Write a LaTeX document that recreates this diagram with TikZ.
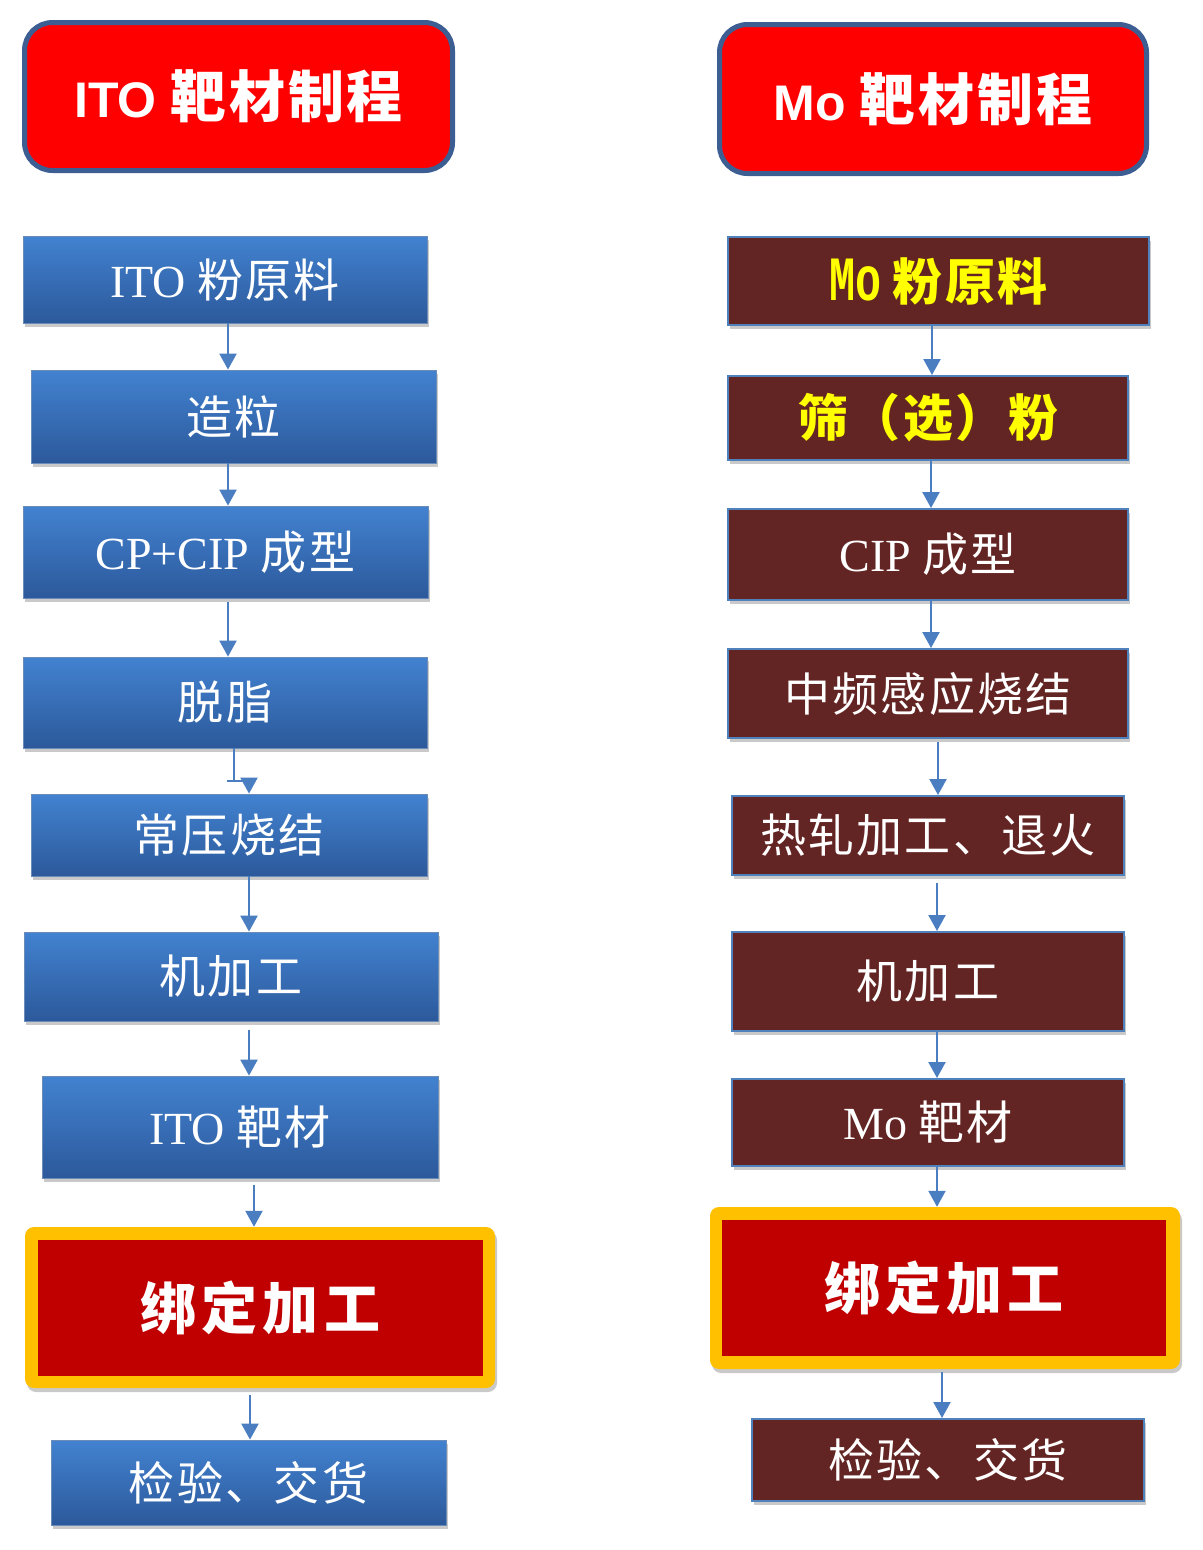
\documentclass[tikz,border=0pt]{standalone}
\usepackage{fontspec}
\usepackage{graphicx}
\setmainfont{Liberation Serif}
\newfontfamily\cjk[LetterSpace=5]{Noto Sans CJK SC}
\newfontfamily\cjkwide[LetterSpace=9]{Noto Sans CJK SC}
\newfontfamily\titlefont{Liberation Sans}
\newfontfamily\monof{Liberation Mono}
\usetikzlibrary{arrows.meta,shadows,calc}
\definecolor{arrowblue}{RGB}{74,126,193}
\definecolor{titleborder}{RGB}{60,94,146}
\definecolor{boxtop}{RGB}{66,130,208}
\definecolor{boxbot}{RGB}{44,89,155}
\definecolor{maroonfill}{RGB}{99,37,35}
\definecolor{mborder}{RGB}{79,129,189}
\definecolor{goldc}{RGB}{255,192,0}
\definecolor{darkredc}{RGB}{192,0,0}
\definecolor{yellowc}{RGB}{255,255,0}
\tikzset{
  shad/.style={drop shadow={shadow xshift=2pt,shadow yshift=-4pt,opacity=0.3,fill=black!70}},
  lbox/.style={rectangle, inner sep=0pt, top color=boxtop, bottom color=boxbot, draw=boxbot!70!white, line width=0.8pt, text=white, shad, font=\fontsize{46}{50}\selectfont},
  rbox/.style={rectangle, inner sep=0pt, fill=maroonfill, draw=mborder, line width=2pt, text=white, shad, font=\fontsize{46}{50}\selectfont},
  goldbox/.style={rectangle, inner sep=0pt, rounded corners=9pt, fill=goldc, shad},
  redin/.style={rectangle, inner sep=0pt, fill=darkredc, text=white, font=\fontsize{56}{60}\selectfont},
  titlebox/.style={rectangle, inner sep=0pt, rounded corners=28pt, fill=red, draw=titleborder, line width=5pt, text=white},
  conn/.style={draw=arrowblue, line width=2.2pt},
  arr/.style={conn, -{Triangle[width=17pt,length=16pt]}}
}
\begin{document}
\begin{tikzpicture}[x=1pt,y=-1pt]
\useasboundingbox (0,0) rectangle (1202,1550);
% titles
\node[titlebox, minimum width=428pt, minimum height=148pt] (T1) at (238.5,96.5)
  {\fontsize{50}{56}\selectfont\titlefont\bfseries ITO {\cjk\fontsize{56}{60}\selectfont\bfseries 靶材制程}};
\node[titlebox, minimum width=427pt, minimum height=149pt] (T2) at (933,99)
  {\fontsize{50}{56}\selectfont\titlefont\bfseries Mo {\cjk\fontsize{56}{60}\selectfont\bfseries 靶材制程}};
% left column
\node[lbox, minimum width=404pt, minimum height=87pt] (L1) at (225,279.5) {ITO {\cjk 粉原料}};
\node[lbox, minimum width=405pt, minimum height=93pt] (L2) at (233.5,416.5) {\cjk 造粒};
\node[lbox, minimum width=405pt, minimum height=92pt] (L3) at (225.5,552) {CP+CIP {\cjk 成型}};
\node[lbox, minimum width=404pt, minimum height=91pt] (L4) at (225,702.5) {\cjk 脱脂};
\node[lbox, minimum width=396pt, minimum height=82pt] (L5) at (229,835) {\cjk 常压烧结};
\node[lbox, minimum width=414pt, minimum height=89pt] (L6) at (231,976.5) {\cjk 机加工};
\node[lbox, minimum width=396pt, minimum height=102pt] (L7) at (240,1127) {ITO {\cjk 靶材}};
\node[goldbox, minimum width=470pt, minimum height=161pt] (L8) at (260,1307.5) {};
\node[redin, minimum width=445pt, minimum height=136pt] (L8in) at (260.5,1308) {\cjkwide\bfseries 绑定加工};
\node[lbox, minimum width=395pt, minimum height=85pt] (L9) at (248.5,1482.5) {\cjk 检验、交货};
% right column
\node[rbox, minimum width=421pt, minimum height=88pt, text=yellowc] (R1) at (938.5,281)
  {\scalebox{0.69}[1]{\monof\bfseries\fontsize{63}{66}\selectfont Mo} {\cjk\bfseries\fontsize{50}{54}\selectfont 粉原料}};
\node[rbox, minimum width=400pt, minimum height=84pt, text=yellowc] (R2) at (928,418)
  {\cjk\bfseries\fontsize{50}{54}\selectfont 筛（选）粉};
\node[rbox, minimum width=400pt, minimum height=91pt] (R3) at (928,554.5) {CIP {\cjk 成型}};
\node[rbox, minimum width=400pt, minimum height=89pt] (R4) at (928,693.5) {\cjk 中频感应烧结};
\node[rbox, minimum width=392pt, minimum height=79pt] (R5) at (928,835.5) {\cjk 热轧加工、退火};
\node[rbox, minimum width=392pt, minimum height=99pt] (R6) at (928,981.5) {\cjk 机加工};
\node[rbox, minimum width=392pt, minimum height=87pt] (R7) at (928,1122.5) {Mo {\cjk 靶材}};
\node[goldbox, minimum width=470pt, minimum height=162pt] (R8) at (945,1288) {};
\node[redin, minimum width=444pt, minimum height=136pt] (R8in) at (944,1288) {\cjkwide\bfseries 绑定加工};
\node[rbox, minimum width=392pt, minimum height=82pt] (R9) at (948,1460) {\cjk 检验、交货};
% left arrows
\draw[arr] ([xshift=3pt]L1.south) -- ([xshift=3pt]L1.south |- L2.north);
\draw[arr] ([xshift=-5.5pt]L2.south) -- ([xshift=-5.5pt]L2.south |- L3.north);
\draw[arr] ([xshift=2.5pt,yshift=-4pt]L3.south) -- ([xshift=2.5pt]L3.south |- L4.north);
\coordinate (e0) at (227,781);
\coordinate (e1) at (234,781);
\coordinate (e2) at (249,781);
\draw[conn] (L4.south -| e1) -- (e1);
\draw[conn] (e0) -- (e2);
\draw[arr] (e2) -- (e2 |- L5.north);
\draw[arr] ([xshift=20pt]L5.south) -- ([xshift=20pt]L5.south |- L6.north);
\draw[arr] ([xshift=18pt,yshift=-9pt]L6.south) -- ([xshift=18pt]L6.south |- L7.north);
\draw[arr] ([xshift=14pt,yshift=-7pt]L7.south) -- ([xshift=14pt]L7.south |- L8.north);
\draw[arr] ([xshift=-10pt,yshift=-7pt]L8.south) -- ([xshift=-10pt]L8.south |- L9.north);
% right arrows
\draw[arr] ([xshift=-6.5pt]R1.south) -- ([xshift=-6.5pt]R1.south |- R2.north);
\draw[arr] ([xshift=3pt]R2.south) -- ([xshift=3pt]R2.south |- R3.north);
\draw[arr] ([xshift=3pt]R3.south) -- ([xshift=3pt]R3.south |- R4.north);
\draw[arr] ([xshift=10pt,yshift=-3pt]R4.south) -- ([xshift=10pt]R4.south |- R5.north);
\draw[arr] ([xshift=9pt,yshift=-7pt]R5.south) -- ([xshift=9pt]R5.south |- R6.north);
\draw[arr] ([xshift=9pt]R6.south) -- ([xshift=9pt]R6.south |- R7.north);
\draw[arr] ([xshift=9pt]R7.south) -- ([xshift=9pt]R7.south |- R8.north);
\draw[arr] ([xshift=-3pt,yshift=-3pt]R8.south) -- ([xshift=-3pt]R8.south |- R9.north);
\end{tikzpicture}
\end{document}
